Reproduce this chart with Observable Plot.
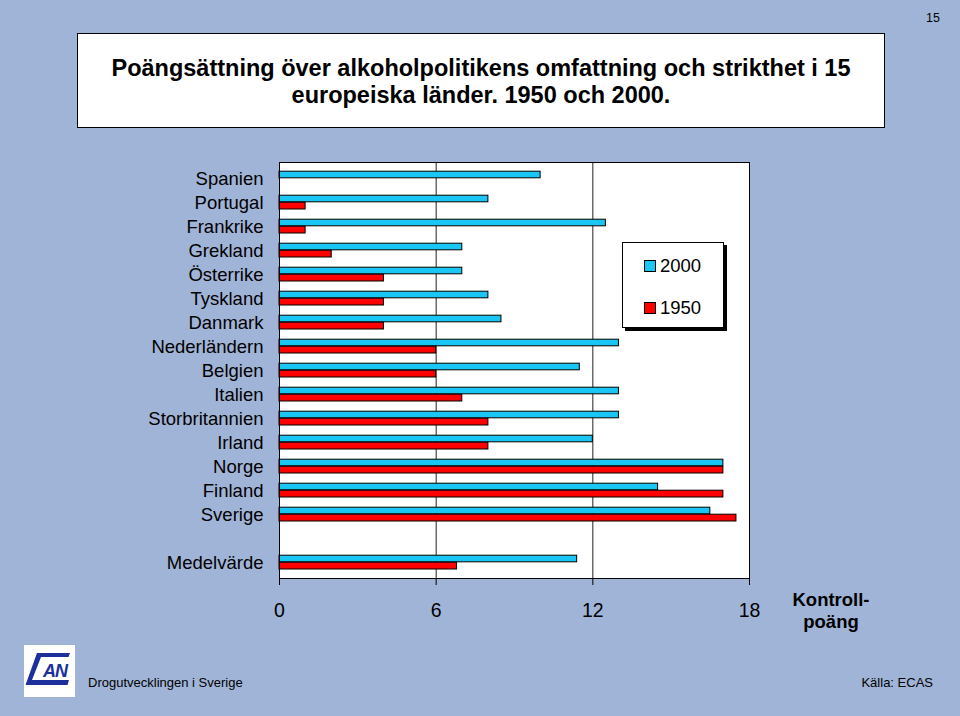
<!DOCTYPE html>
<html>
<head>
<meta charset="utf-8">
<script src="https://cdn.jsdelivr.net/npm/d3@7"></script>
<script src="https://cdn.jsdelivr.net/npm/@observablehq/plot@0.6"></script>
<style>
  html, body { margin: 0; padding: 0; }
  body { width: 960px; height: 716px; overflow: hidden; font-family: Arial, "Liberation Sans", sans-serif; }
  #slide { position: relative; width: 960px; height: 716px; background: #a0b4d7; }
  #chart { position: absolute; left: 0; top: 0; }
  .abs { position: absolute; }
  #title { left: 77px; top: 33px; width: 806px; height: 93px; background: #fff; border: 1px solid #000;
           font-weight: bold; font-size: 23.5px; line-height: 27px; text-align: center; color: #000; }
  #title .inner { position: absolute; left: 0; right: 0; top: 21px; white-space: nowrap; }
  #legend { left: 622px; top: 242px; width: 100px; height: 84px; background: #fff; border: 1px solid #000;
            box-shadow: 3px 3px 0 #000; font-size: 18.5px; }
  .sw { position: absolute; width: 10px; height: 10px; border: 1px solid #000; }
  .lt { position: absolute; line-height: 20px; }
</style>
</head>
<body>
<div id="slide">
  <div id="chart"></div>
  <div class="abs" style="left:926px; top:11px; font-size:12.5px; color:#000;">15</div>
  <div id="title" class="abs"><div class="inner">Poängsättning över alkoholpolitikens omfattning och strikthet i 15<br>europeiska länder. 1950 och 2000.</div></div>
  <div id="legend" class="abs"></div>
  <div class="abs" style="left:771px; top:589px; width:120px; text-align:center; font-weight:bold; font-size:18.5px; line-height:22px;">Kontroll-<br>poäng</div>
  <div class="abs" style="left:24px; top:645px; width:51px; height:52px; background:#fff;">
    <svg width="51" height="52" viewBox="0 0 51 52">
      <polygon points="13,8 46,8 44.5,12 17,12 8,35 45,35 43.5,40 1.5,40" fill="#1c2f9a"/>
      <text x="31" y="32" font-family="Arial" font-weight="bold" font-style="italic" font-size="18" fill="#1c2f9a" text-anchor="middle" letter-spacing="-1">AN</text>
    </svg>
  </div>
  <div class="abs" style="left:88px; top:675px; font-size:13px; color:#000;">Drogutvecklingen i Sverige</div>
  <div class="abs" style="right:27px; top:675px; font-size:13px; color:#000;">Källa: ECAS</div>
</div>
<script>
// ---- data ----
const categories = ["Spanien","Portugal","Frankrike","Grekland","Österrike","Tyskland","Danmark","Nederländern","Belgien","Italien","Storbritannien","Irland","Norge","Finland","Sverige"," ","Medelvärde"];
const values2000 = [10, 8, 12.5, 7, 7, 8, 8.5, 13, 11.5, 13, 13, 12, 17, 14.5, 16.5, null, 11.4];
const values1950 = [0, 1, 1, 2, 4, 4, 4, 6, 6, 7, 8, 8, 17, 17, 17.5, null, 6.8];
const seriesNames = ["2000", "1950"];
const seriesColors = ["#19c6f4", "#ff0000"];
const xTicks = [0, 6, 12, 18];

const rows = categories.map((c, i) => ({category: c, v2000: values2000[i], v1950: values1950[i]}));

const chart = Plot.plot({
  width: 960,
  height: 640,
  marginLeft: 279,
  marginRight: 211,
  marginTop: 162,
  marginBottom: 62,
  x: {domain: [0, 18]},
  y: {domain: categories, padding: 0},
  style: {fontFamily: "Arial, 'Liberation Sans', sans-serif", background: "transparent", color: "#000", overflow: "visible"},
  marks: [
    Plot.frame({fill: "white", stroke: null}),
    Plot.ruleX(xTicks.slice(1, -1), {stroke: "#222", strokeWidth: 1}),
    Plot.barX(rows.filter(d => d.v2000 > 0), {y: "category", x: "v2000", fill: seriesColors[0], stroke: "#000", strokeWidth: 1, insetTop: 5.2, insetBottom: 12.2}),
    Plot.barX(rows.filter(d => d.v1950 > 0), {y: "category", x: "v1950", fill: seriesColors[1], stroke: "#000", strokeWidth: 1, insetTop: 12.2, insetBottom: 5}),
    Plot.frame({stroke: "#000", strokeWidth: 1}),
    Plot.axisX({ticks: xTicks, tickSize: 7, tickPadding: 18, fontSize: 19.5, label: null, stroke: "#000"}),
    Plot.axisY({tickSize: 0, tickPadding: 16, fontSize: 18.5, label: null, dy: 1})
  ]
});
document.getElementById("chart").appendChild(chart);

// legend
const legend = document.getElementById("legend");
seriesNames.forEach((name, i) => {
  const top = i === 0 ? 17 : 59;
  const sw = document.createElement("div");
  sw.className = "sw";
  sw.style.left = "21px"; sw.style.top = top + "px"; sw.style.background = seriesColors[i];
  legend.appendChild(sw);
  const t = document.createElement("div");
  t.className = "lt";
  t.style.left = "37px"; t.style.top = (top - 4) + "px";
  t.textContent = name;
  legend.appendChild(t);
});
</script>
</body>
</html>
